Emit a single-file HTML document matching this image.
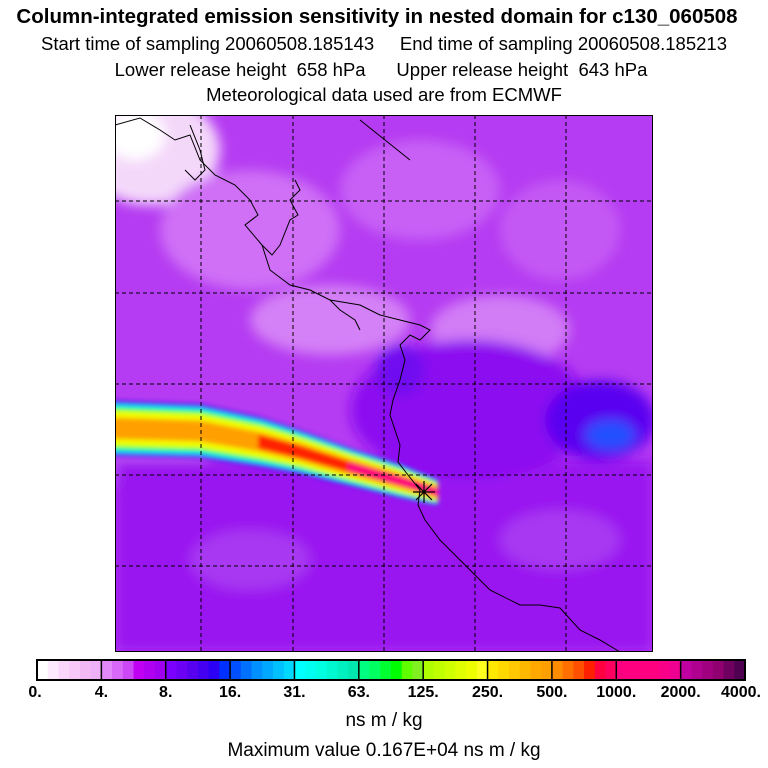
<!DOCTYPE html>
<html><head><meta charset="utf-8"><style>
body{margin:0;background:#fff;width:768px;height:768px;overflow:hidden;font-family:"Liberation Sans",sans-serif}
.t{position:absolute;left:0;width:768px;text-align:center;font-size:18.5px;color:#000;white-space:pre}
</style></head><body>
<div class="t" style="top:5px;font-weight:bold;font-size:20.5px;left:-7px">Column-integrated emission sensitivity in nested domain for c130_060508</div>
<div class="t" style="top:33px">Start time of sampling 20060508.185143     End time of sampling 20060508.185213</div>
<div class="t" style="top:59px;left:-3px">Lower release height  658 hPa      Upper release height  643 hPa</div>
<div class="t" style="top:84px">Meteorological data used are from ECMWF</div>
<svg width="768" height="768" style="position:absolute;left:0;top:0" id="svg">
<defs>
<clipPath id="mapclip"><rect x="115" y="115" width="538" height="537"/></clipPath>
<filter id="blur"><feGaussianBlur stdDeviation="6"/></filter>
<filter id="blur2"><feGaussianBlur stdDeviation="2.5"/></filter>
</defs>
<g clip-path="url(#mapclip)">
<rect x="115" y="115" width="538" height="537" fill="#b53cf2"/>
<g filter="url(#blur)">
<ellipse cx="150" cy="150" rx="70" ry="55" fill="#f4d8fa"/>
<ellipse cx="135" cy="135" rx="30" ry="25" fill="#ffffff"/>
<ellipse cx="250" cy="230" rx="90" ry="60" fill="#cf70f6"/>
<ellipse cx="420" cy="190" rx="80" ry="50" fill="#c860f6"/>
<ellipse cx="560" cy="230" rx="60" ry="50" fill="#c458f4"/>
<ellipse cx="330" cy="320" rx="80" ry="35" fill="#d480f6"/>
<ellipse cx="500" cy="330" rx="70" ry="35" fill="#d27cf6"/>
<ellipse cx="160" cy="470" rx="50" ry="40" fill="#c65af4"/>
<rect x="115" y="460" width="538" height="192" fill="#9a18f0"/>
<ellipse cx="470" cy="410" rx="120" ry="70" fill="#8c10f0"/>
<ellipse cx="600" cy="420" rx="55" ry="40" fill="#5a00f0"/>
<ellipse cx="610" cy="435" rx="25" ry="15" fill="#2050ff"/>
<ellipse cx="400" cy="370" rx="25" ry="25" fill="#7010f0"/>
<ellipse cx="250" cy="560" rx="60" ry="30" fill="#a838f2"/>
<ellipse cx="560" cy="540" rx="60" ry="30" fill="#a838f2"/>
</g>
<g id="plume" filter="url(#blur2)"></g>
<g stroke="#000" stroke-width="1" fill="none">
<polyline points="115,125 140,118 160,130 175,140 190,135 200,160 215,175 235,185 250,200 258,215 245,225 262,245 272,255 280,245 290,220 298,215 290,200 300,190 295,180"/>
<polyline points="262,245 270,270 290,285 310,290 330,300 360,305 380,315 400,320 420,325 430,330 420,340 410,335 400,345 405,360 400,380 393,400 390,415 395,430 400,445 398,462 408,475 420,490 418,505 425,520 440,540 460,560 490,590 520,605 540,605 560,608 580,630 600,640 620,652"/>
<polyline points="190,125 200,150 205,170 195,180 185,170"/>
<polyline points="330,300 340,310 355,320 360,330"/>
<polyline points="360,120 385,140 410,160"/>
</g>
<g stroke="#000" stroke-width="1" stroke-dasharray="4,3">
<line x1="201" y1="115" x2="201" y2="652"/><line x1="293" y1="115" x2="293" y2="652"/><line x1="384" y1="115" x2="384" y2="652"/><line x1="475" y1="115" x2="475" y2="652"/><line x1="566" y1="115" x2="566" y2="652"/>
<line x1="115" y1="201" x2="653" y2="201"/><line x1="115" y1="293" x2="653" y2="293"/><line x1="115" y1="384" x2="653" y2="384"/><line x1="115" y1="475" x2="653" y2="475"/><line x1="115" y1="566" x2="653" y2="566"/>
</g>
<g stroke="#000" stroke-width="1.2">
<line x1="413" y1="492" x2="435" y2="492"/><line x1="424" y1="481" x2="424" y2="503"/><line x1="416" y1="484" x2="432" y2="500"/><line x1="432" y1="484" x2="416" y2="500"/>
</g>
</g>
<rect x="115.5" y="115.5" width="537" height="536" fill="none" stroke="#000" stroke-width="1"/>
<g id="cbar"></g>
<text x="384" y="726" text-anchor="middle" font-size="19" font-family="Liberation Sans">ns m / kg</text>
<text x="384" y="756" text-anchor="middle" font-size="19" font-family="Liberation Sans">Maximum value  0.167E+04 ns m / kg</text>
</svg>
<script>
const levelLabels=["0.","4.","8.","16.","31.","63.","125.","250.","500.","1000.","2000.","4000."];
const segColors=[
["#ffffff","#fdeafd","#fbd6fb","#f8c8f8","#f2b8f4","#eeb0f6"],
["#e288f8","#d868f8","#cc48f6","#c000f2","#b000f2","#a000f0"],
["#7c00ff","#6c00f4","#5800f0","#4400f0","#2c00f4","#0030ff"],
["#0050ff","#0070ff","#0090ff","#00a8ff","#00c0ff","#00d8ff"],
["#00ffff","#00fff0","#00ffe0","#00f8d0","#00f0c0","#00e8b0"],
["#00ff80","#00ff60","#00ff30","#00ff00","#60ff00","#80f020"],
["#b0ff00","#c0ff00","#d0ff00","#e0ff00","#eeff00","#ffff20"],
["#ffe800","#ffd800","#ffc800","#ffb800","#ffa800","#ffa000"],
["#ff8c00","#ff7000","#ff5000","#ff2000","#ff0040","#ff0060"],
["#ff0080","#ff0080","#ff0080","#ff0080","#f80088","#f00090"],
["#c000a0","#b00090","#a00080","#900070","#700060","#500050"]];
// plume centerline and half-width
const plumeX=[105,200,260,300,350,400,436];
const plumeY=[428,431,442,452,467,481,492];
const plumeHW=[26,25,23,20,17,15,11];
const bandScale=[1.0,0.86,0.74,0.6,0.34,0.22,0.12];
const bandStart=[0,0,0,0,0,2,4];
const bandColor=["#4010f0","#00e8ff","#30ff40","#f0ff00","#ffa000","#ff2000","#ff0080"];
const ns="http://www.w3.org/2000/svg";
const pg=document.getElementById('plume');
bandColor.forEach((c,b)=>{
  const top=[],bot=[];
  for(let i=bandStart[b];i<plumeX.length;i++){
    const h=plumeHW[i]*bandScale[b];
    top.push(plumeX[i]+','+(plumeY[i]-h));bot.unshift(plumeX[i]+','+(plumeY[i]+h));
  }
  const p=document.createElementNS(ns,'polygon');
  
  
  p.setAttribute('points',top.concat(bot).join(' '));
  p.setAttribute('fill',c);p.setAttribute('stroke',c);p.setAttribute('stroke-width','4');p.setAttribute('stroke-linejoin','round');
  pg.appendChild(p);
});
const g=document.getElementById('cbar');
const X0=37,X1=745,Y0=660,H=20;
const segW=(X1-X0)/segColors.length;
function xOf(i){return X0+i*segW;}
segColors.forEach((cols,i)=>{
  cols.forEach((c,j)=>{
    const r=document.createElementNS(ns,'rect');
    
    
    r.setAttribute('x',xOf(i)+j*segW/cols.length);r.setAttribute('y',Y0);
    r.setAttribute('width',segW/cols.length+0.5);r.setAttribute('height',H);r.setAttribute('fill',c);
    g.appendChild(r);
  });
});
levelLabels.forEach((l,i)=>{
  const ln=document.createElementNS(ns,'line');
  
  
  ln.setAttribute('x1',xOf(i));ln.setAttribute('x2',xOf(i));ln.setAttribute('y1',Y0);ln.setAttribute('y2',Y0+H);
  ln.setAttribute('stroke','#000');ln.setAttribute('stroke-width','1.5');g.appendChild(ln);
  const t=document.createElementNS(ns,'text');
  
  
  t.setAttribute('x',i==0?xOf(i)-2:xOf(i));t.setAttribute('y',697);
  t.setAttribute('text-anchor',i==0?'middle':(i==levelLabels.length-1?'end':'middle'));
  if(i==levelLabels.length-1)t.setAttribute('x',xOf(i)+16);
  t.setAttribute('font-size','16');t.setAttribute('font-weight','bold');t.setAttribute('font-family','Liberation Sans');
  t.textContent=l;g.appendChild(t);
});
const b=document.createElementNS(ns,'rect');


b.setAttribute('x',X0);b.setAttribute('y',Y0);b.setAttribute('width',X1-X0);b.setAttribute('height',H);
b.setAttribute('fill','none');b.setAttribute('stroke','#000');b.setAttribute('stroke-width','2');g.appendChild(b);
</script>
</body></html>
